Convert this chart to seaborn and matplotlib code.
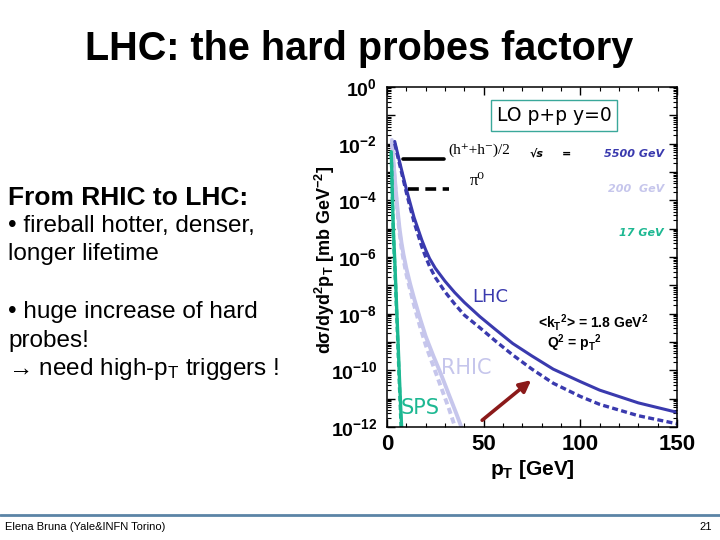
import matplotlib
matplotlib.use("Agg")
import numpy as np
import matplotlib.pyplot as plt
import seaborn as sns
from matplotlib.lines import Line2D
from matplotlib.ticker import FixedLocator, FuncFormatter, LogLocator, MultipleLocator, NullFormatter

# LO p+p spectra at y=0 (pT in GeV, sigma in mb GeV^-2)
lhc_pt = [4, 6, 8, 10, 12, 14, 16, 18, 20, 22, 25, 30, 35, 40, 48, 56, 65, 75, 86, 100, 110, 130, 150]
lhc_h = [1.2e-2, 3.2e-3, 8.9e-4, 2.5e-4, 7.9e-5, 2.5e-5, 1.0e-5, 4.0e-6, 1.8e-6, 8.9e-7, 4.0e-7,
         1.4e-7, 5.6e-8, 2.5e-8, 7.9e-9, 2.8e-9, 8.9e-10, 3.2e-10, 1.1e-10, 4.0e-11, 2.0e-11,
         7.1e-12, 3.3e-12]
lhc_pi0 = [1.0e-2, 2.6e-3, 7.1e-4, 1.9e-4, 5.6e-5, 1.7e-5, 6.3e-6, 2.3e-6, 1.0e-6, 4.7e-7, 1.9e-7,
           5.9e-8, 2.2e-8, 8.9e-9, 3.2e-9, 1.1e-9, 3.5e-10, 1.1e-10, 3.5e-11, 1.2e-11, 6.3e-12,
           2.5e-12, 1.3e-12]

rhic_pt = [2.5, 3.5, 4.5, 5.5, 6.5, 7.5, 8.5, 10, 12, 14, 17, 20, 24, 28, 32, 36, 39]
rhic_h = [1.35e-2, 1.8e-3, 2.5e-4, 4.5e-5, 1.0e-5, 3.2e-6, 1.26e-6, 4.0e-7, 1.1e-7, 3.5e-8,
          7.1e-9, 1.6e-9, 3.2e-10, 7.1e-11, 1.4e-11, 2.8e-12, 7.9e-13]
rhic_pi0_pt = [2.5, 3.5, 4.5, 5.5, 6.5, 7.5, 8.5, 10, 12, 14, 17, 20, 24, 28, 32, 35, 37]
rhic_pi0 = [1.1e-2, 1.4e-3, 1.9e-4, 3.2e-5, 7.1e-6, 2.1e-6, 8.3e-7, 2.5e-7, 6.8e-8, 2.0e-8,
            3.7e-9, 7.9e-10, 1.4e-10, 2.5e-11, 4.5e-12, 1.1e-12, 4.5e-13]

sps_pt = [2.2, 2.6, 3.0, 3.4, 4.0, 4.8, 5.6, 6.4, 7.2, 7.8]
sps_h = [5.2e-3, 5.0e-4, 4.0e-5, 6.3e-6, 7.9e-7, 3.5e-8, 1.6e-9, 6.3e-11, 3.2e-12, 5.0e-13]
sps_pi0_pt = [2.2, 2.6, 3.0, 3.4, 4.0, 4.8, 5.6, 6.4, 7.2, 7.6]
sps_pi0 = [4.5e-3, 4.0e-4, 2.8e-5, 4.0e-6, 5.0e-7, 2.2e-8, 8.9e-10, 3.2e-11, 1.4e-12, 4.0e-13]

arrow_start = (48.1, 1.5e-12)
arrow_end = (75.7, 5.2e-11)

y_decades = list(range(0, -13, -1))
x_ticks = [0, 50, 100, 150]

LHC_C = "#3a3aae"
RHIC_C = "#c6c6ec"
SPS_C = "#1db892"

sns.set_style("ticks")
plt.rcParams["font.family"] = ["Liberation Sans", "DejaVu Sans"]
plt.rcParams.update({
    "text.color": "black",
    "axes.labelcolor": "black",
    "xtick.color": "black",
    "ytick.color": "black",
    "mathtext.fontset": "custom",
    "mathtext.rm": "Liberation Sans",
    "mathtext.bf": "Liberation Sans:bold",
    "mathtext.it": "Liberation Sans:italic",
    "mathtext.sf": "Liberation Sans",
})

fig = plt.figure(figsize=(7.2, 5.4), dpi=100)
W, H = 720, 540

# slide title and bullet text
fig.text(359.5 / W, 1 - 60 / H, "LHC: the hard probes factory", ha="center", va="baseline",
         fontsize=28.5, fontweight="bold")
bullets = [("From RHIC to LHC:", "bold", 19, 205),
           ("\u2022 fireball hotter, denser,", "normal", 17.5, 232),
           ("longer lifetime", "normal", 17.5, 260),
           ("\u2022 huge increase of hard", "normal", 17.5, 318),
           ("probes!", "normal", 17.5, 347),
           ("\u2192 need high-p$_\\mathregular{T}$ triggers !", "normal", 17.5, 375)]
for txt, wt, fs, yb in bullets:
    fig.text(8 / W, 1 - yb / H, txt, ha="left", va="baseline", fontsize=fs, fontweight=wt)

# footer
fig.add_artist(Line2D([0, 1], [1 - 514.5 / H] * 2, color="#5b84a6", lw=2))
fig.text(5 / W, 1 - 527 / H, "Elena Bruna (Yale&INFN Torino)", ha="left", va="center", fontsize=8)
fig.text(712 / W, 1 - 527 / H, "21", ha="right", va="center", fontsize=8)

ax = fig.add_axes([387 / W, 113 / H, 290 / W, 340 / H])

curves = [
    (rhic_pt, rhic_h, RHIC_C, 2.8, "-"),
    (rhic_pi0_pt, rhic_pi0, RHIC_C, 2.8, (0, (1.6, 1.0))),
    (sps_pi0_pt, sps_pi0, SPS_C, 2.4, (0, (1.6, 1.0))),
    (sps_pt, sps_h, SPS_C, 2.4, "-"),
    (lhc_pt, lhc_pi0, LHC_C, 2.4, (0, (1.8, 1.0))),
    (lhc_pt, lhc_h, LHC_C, 2.2, "-"),
]
for xs, ys, col, lw, ls in curves:
    sns.lineplot(x=xs, y=ys, ax=ax, color=col, lw=lw, linestyle=ls, sort=False, estimator=None)

ax.set_yscale("log")
ax.set_xlim(0, 150)
ax.set_ylim(1e-12, 1)

ax.yaxis.set_major_locator(FixedLocator([10.0 ** k for k in y_decades]))
ax.yaxis.set_major_formatter(FuncFormatter(
    lambda v, p: r"$\mathbf{10^{%d}}$" % round(np.log10(v)) if round(np.log10(v)) % 2 == 0 else ""))
ax.yaxis.set_minor_locator(LogLocator(base=10, subs=np.arange(2, 10), numticks=100))
ax.yaxis.set_minor_formatter(NullFormatter())
ax.xaxis.set_major_locator(FixedLocator(x_ticks))
ax.xaxis.set_minor_locator(MultipleLocator(10))
ax.set_xticklabels([str(t) for t in x_ticks], fontweight="bold")

ax.tick_params(which="both", direction="in", top=True, right=True)
ax.tick_params(axis="y", labelsize=14, pad=7)
ax.tick_params(axis="x", labelsize=16, pad=5)
ax.tick_params(which="major", length=6, width=1)
ax.tick_params(which="minor", length=3, width=0.8)
for s in ax.spines.values():
    s.set_color("black")
    s.set_linewidth(1.1)

ax.set_xlabel(r"p$_\mathbf{T}$ [GeV]", fontsize=15, fontweight="bold", labelpad=2)
fig.text(325 / W, 1 - 260 / H, "d\u03c3/dyd$^\\mathbf{2}$p$_\\mathbf{T}$ [mb GeV$^\\mathbf{-2}$]",
         rotation=90, ha="center", va="center", fontsize=13, fontweight="bold")

# in-plot annotations
ax.text(0.576, 0.916, "LO p+p y=0", transform=ax.transAxes, ha="center", va="center",
        fontsize=13.5, family="DejaVu Sans",
        bbox=dict(boxstyle="square,pad=0.3", fc="white", ec="#3aa89a", lw=1))

ax.add_line(Line2D([0.055, 0.197], [0.788, 0.788], transform=ax.transAxes, color="black", lw=2.6))
ax.add_line(Line2D([0.072, 0.214], [0.70, 0.70], transform=ax.transAxes, color="black", lw=2.6,
                   linestyle=(0, (3, 1.8))))
serif = ["Liberation Serif", "DejaVu Serif"]
ax.text(0.21, 0.815, "(h\u207a+h\u207b)/2", transform=ax.transAxes, ha="left", va="center",
        fontsize=11, family=serif)
ax.text(0.286, 0.724, "\u03c0\u2070", transform=ax.transAxes, ha="left", va="center",
        fontsize=12, family=serif)

small = dict(transform=ax.transAxes, va="center", fontsize=8, fontweight="bold",
             fontstyle="italic", family="DejaVu Sans")
ax.text(0.493, 0.803, "\u221as", ha="left", color="black", **small)
ax.text(0.603, 0.803, "=", ha="left", color="black", **small)
ax.text(0.955, 0.803, "5500 GeV", ha="right", color=LHC_C, **small)
ax.text(0.955, 0.700, "200  GeV", ha="right", color=RHIC_C, **small)
ax.text(0.955, 0.571, "17 GeV", ha="right", color=SPS_C, **small)

ax.text(0.355, 0.382, "LHC", transform=ax.transAxes, ha="center", va="center",
        fontsize=13, color=LHC_C, family="DejaVu Sans")
ax.text(0.274, 0.174, "RHIC", transform=ax.transAxes, ha="center", va="center",
        fontsize=15, color=RHIC_C, family="DejaVu Sans")
ax.text(0.114, 0.057, "SPS", transform=ax.transAxes, ha="center", va="center",
        fontsize=15, color=SPS_C, family="DejaVu Sans")

ax.text(0.521, 0.306, r"<k$_\mathbf{T}$$^\mathbf{2}$> = 1.8 GeV$^\mathbf{2}$", transform=ax.transAxes,
        ha="left", va="center", fontsize=10, fontweight="bold")
ax.text(0.552, 0.247, r"Q$^\mathbf{2}$ = p$_\mathbf{T}$$^\mathbf{2}$", transform=ax.transAxes,
        ha="left", va="center", fontsize=10, fontweight="bold")

ax.annotate("", xy=arrow_end, xytext=arrow_start, xycoords="data",
            arrowprops=dict(arrowstyle="-|>", color="#8b1a1a", lw=2.6, mutation_scale=17))

fig.savefig("out.png", dpi=100)
